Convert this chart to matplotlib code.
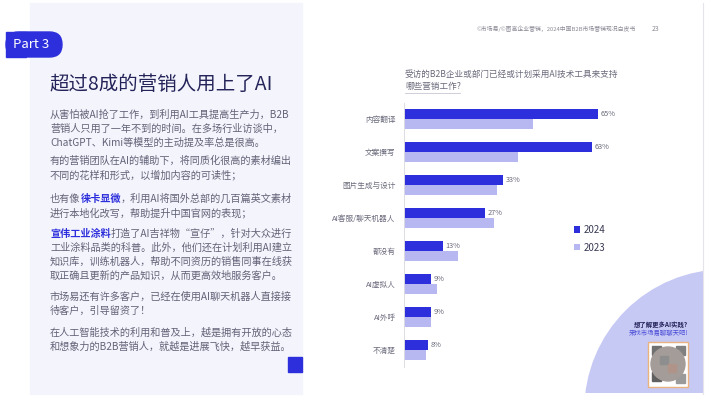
import matplotlib
matplotlib.use("Agg")
import matplotlib.pyplot as plt
from matplotlib.patches import Rectangle, FancyBboxPatch, Circle

plt.rcParams['font.family'] = ['Noto Sans CJK SC', 'DejaVu Sans']

# data
categories = ['内容翻译', '文案撰写', '图片生成与设计', 'AI客服/聊天机器人',
              '都没有', 'AI虚拟人', 'AI外呼', '不清楚']
values_2024 = [65, 63, 33, 27, 13, 9, 9, 8]
values_2023 = [43, 38, 31, 30, 18, 11, 9, 7.5]
series_labels = ['2024', '2023']

title = '超过8成的营销人用上了AI'
question = ['受访的B2B企业或部门已经或计划采用AI技术工具来支持', '哪些营销工作?']
source = '©市场易/©图高企业营销，2024中国B2B市场营销现况白皮书'
page_no = '23'

# paragraph lines: list of (segments), segment = (text, highlighted)
body_lines = [
    [('从害怕被AI抢了工作，到利用AI工具提高生产力，B2B', False)],
    [('营销人只用了一年不到的时间。在多场行业访谈中，', False)],
    [('ChatGPT、Kimi等模型的主动提及率总是很高。', False)],
    [('有的营销团队在AI的辅助下，将同质化很高的素材编出', False)],
    [('不同的花样和形式，以增加内容的可读性；', False)],
    [('也有像', False), ('徕卡显微', True), ('，利用AI将国外总部的几百篇英文素材', False)],
    [('进行本地化改写，帮助提升中国官网的表现；', False)],
    [('宣伟工业涂料', True), ('打造了AI吉祥物“宣仔”，针对大众进行', False)],
    [('工业涂料品类的科普。此外，他们还在计划利用AI建立', False)],
    [('知识库，训练机器人，帮助不同资历的销售同事在线获', False)],
    [('取正确且更新的产品知识，从而更高效地服务客户。', False)],
    [('市场易还有许多客户，已经在使用AI聊天机器人直接接', False)],
    [('待客户，引导留资了！', False)],
    [('在人工智能技术的利用和普及上，越是拥有开放的心态', False)],
    [('和想象力的B2B营销人，就越是进展飞快，越早获益。', False)],
]
body_y = [115, 129, 143, 161, 175, 199, 213, 234, 248, 262, 276, 297, 311, 333, 347]

BLUE = '#2d2fdc'
LIGHT = '#b7b8f1'
NAVY = '#25245a'
GRAY = '#6a6a7c'

W, H = 717, 403
fig = plt.figure(figsize=(W / 100, H / 100), dpi=100)
fig.patch.set_facecolor('white')

bg = fig.add_axes([0, 0, 1, 1])
bg.set_xlim(0, W)
bg.set_ylim(H, 0)
bg.axis('off')

# left panel
bg.add_patch(Rectangle((30, 3), 272, 391, color='#f4f5fc', zorder=0))
# Part 3 pill (flat left, round right)
bg.add_patch(FancyBboxPatch((6, 32), 56, 25, boxstyle='round,pad=0,rounding_size=12.5',
                            color=BLUE, zorder=1))
bg.add_patch(Rectangle((6, 32), 20, 25, color=BLUE, zorder=1))
bg.text(13, 44.5, 'Part 3', color='white', fontsize=9.5, va='center', ha='left', zorder=2)
bg.text(49, 85, title, color=NAVY, fontsize=14, va='center', ha='left')

for segs, y in zip(body_lines, body_y):
    prev = None
    for txt, hl in segs:
        kw = dict(fontsize=7.3, color=BLUE if hl else '#626278',
                  fontweight='bold' if hl else 'normal')
        if prev is None:
            prev = bg.text(50, y, txt, va='center', ha='left', **kw)
        else:
            prev = bg.annotate(txt, xy=(1, 0), xycoords=prev, va='bottom', ha='left', **kw)

bg.add_patch(Rectangle((288, 357), 14, 15, color=BLUE))

# right side decorations
bg.plot([703, 703], [3, 394], color='#e4e4ea', lw=0.8)
bg.text(636, 29, source, fontsize=4.2, color='#8a8a96', ha='right', va='center')
bg.text(652, 29, page_no, fontsize=5, color='#8a8a96', ha='left', va='center')
bg.text(405, 74, question[0], fontsize=6.2, color=GRAY, ha='left', va='center')
bg.text(405, 86, question[1], fontsize=6.2, color=GRAY, ha='left', va='center')
bg.plot([405, 460], [93, 93], color='#c8c8d4', lw=0.6)

clip = Rectangle((0, 0), 703, 393, transform=bg.transData)
circ = Circle((725, 410), 140, color='#c7c9f5', zorder=1)
bg.add_patch(circ)
circ.set_clip_path(clip)
bg.text(688, 325, '想了解更多AI实践?', fontsize=4.6, color=NAVY, fontweight='bold',
        ha='right', va='center', zorder=3)
bg.text(688, 333, '来找市场易聊聊天吧!', fontsize=4.6, color='#4a4cd6',
        ha='right', va='center', zorder=3)
bg.add_patch(Rectangle((648, 342), 40, 45, facecolor='white', edgecolor='#e9b27e', lw=1, zorder=3))
for (qx, qy, qc) in [(652, 346, '#707070'), (676, 346, '#808080'), (652, 372, '#606060'),
                     (676, 374, '#9a9a9a')]:
    bg.add_patch(Rectangle((qx, qy), 9, 9, color=qc, zorder=4))
bg.add_patch(Circle((668, 364), 17, color='#a49c98', zorder=5))
bg.add_patch(Rectangle((660, 356), 8, 8, color='#8e8e8e', zorder=6))
bg.add_patch(Rectangle((668, 364), 8, 8, color='#b0948a', zorder=6))

# chart
ax = fig.add_axes([404 / W, 1 - 366.5 / H, 299 / W, 264 / H])
ax.patch.set_visible(False)
ypos = list(range(len(categories)))
b24 = ax.barh([y - 0.152 for y in ypos], values_2024, height=0.30, color=BLUE, label=series_labels[0])
b23 = ax.barh([y + 0.152 for y in ypos], values_2023, height=0.30, color=LIGHT, label=series_labels[1])
for y, v in zip(ypos, values_2024):
    ax.text(v + 0.9, y - 0.16, f'{v}%', fontsize=5.3, color=GRAY, va='center', ha='left')
ax.set_xlim(0, 100)
ax.set_ylim(7.5, -0.5)
ax.set_yticks(ypos)
ax.set_yticklabels(categories, fontsize=5.5, color=GRAY)
ax.tick_params(axis='y', length=0, pad=6)
ax.set_xticks([])
for s in ['top', 'right', 'bottom']:
    ax.spines[s].set_visible(False)
ax.spines['left'].set_color('#dcdce4')
ax.spines['left'].set_linewidth(0.7)

ax.legend(handles=[b24, b23], labels=series_labels, loc='upper left',
          bbox_to_anchor=(574 / W, 1 - 225 / H), bbox_transform=fig.transFigure,
          frameon=False, fontsize=7, handlelength=0.6, handleheight=0.6,
          handletextpad=0.4, labelspacing=0.8, borderpad=0, borderaxespad=0,
          labelcolor='#3a3a55')

fig.savefig('out.png', dpi=100)
